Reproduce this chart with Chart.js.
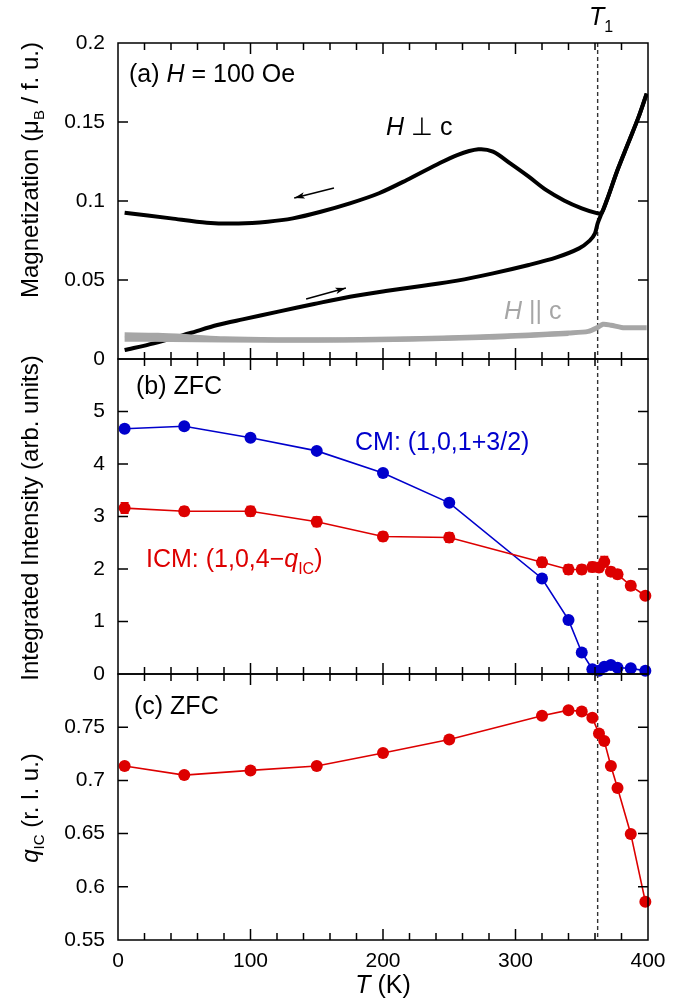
<!DOCTYPE html>
<html>
<head>
<meta charset="utf-8">
<script src="https://cdn.jsdelivr.net/npm/chart.js@4.4.1/dist/chart.umd.min.js"></script>
<style>
  html, body { margin: 0; padding: 0; background: #fff; }
  #wrap { position: relative; width: 679px; height: 1003px; overflow: hidden; background: #fff; }
  #wrap canvas { position: absolute; left: 0; }
</style>
</head>
<body>
<div id="wrap">
  <canvas id="panelA" style="top:0px" width="679" height="399"></canvas>
  <canvas id="panelB" style="top:319px" width="679" height="395"></canvas>
  <canvas id="panelC" style="top:634px" width="679" height="369"></canvas>
</div>
<script>
// ---- data ----
// (a) magnetization, H = 100 Oe
const warmT   = [5, 27, 54, 75, 94, 121, 148, 175, 202, 229, 256, 283, 310, 331, 348, 356, 360, 362, 365, 369, 377, 385, 393, 399];
const warmMag = [0.0057, 0.0099, 0.0163, 0.0215, 0.0251, 0.0300, 0.0348, 0.0394, 0.0430, 0.0462, 0.0496, 0.0542, 0.0595, 0.0643, 0.0700, 0.0749, 0.0795, 0.0859, 0.0922, 0.1006, 0.1196, 0.1365, 0.1534, 0.1680];
const coolT   = [399, 393, 385, 377, 369, 365, 362, 350, 337, 323, 310, 296, 283, 272, 256, 240, 218, 197, 175, 153, 132, 113, 91, 67, 40, 5];
const coolMag = [0.1680, 0.1534, 0.1365, 0.1196, 0.1006, 0.0924, 0.0922, 0.0954, 0.1002, 0.1070, 0.1154, 0.1238, 0.1312, 0.1327, 0.1291, 0.1228, 0.1133, 0.1049, 0.0985, 0.0932, 0.0890, 0.0869, 0.0858, 0.0863, 0.0890, 0.0926];
const parT1   = [5, 30, 55, 80, 120, 170, 220, 270, 310, 340, 355, 362, 366, 372, 380, 390, 399];
const parMag1 = [0.0153, 0.0150, 0.0140, 0.0128, 0.0122, 0.0122, 0.0128, 0.0140, 0.0152, 0.0165, 0.0175, 0.0200, 0.0220, 0.0214, 0.0200, 0.0198, 0.0198];
const parT2   = [5, 40, 80, 150, 220, 280, 340];
const parMag2 = [0.0125, 0.0124, 0.0120, 0.0118, 0.0125, 0.0138, 0.0162];

// (b), (c) neutron data, ZFC
const scanT        = [5, 50, 100, 150, 200, 250, 320, 340, 350, 358, 363, 367, 372, 377, 387, 398];
const cmIntensity  = [4.67, 4.72, 4.50, 4.25, 3.83, 3.26, 1.82, 1.03, 0.41, 0.09, 0.06, 0.14, 0.17, 0.12, 0.11, 0.06];
const icmIntensity = [3.16, 3.10, 3.10, 2.90, 2.62, 2.60, 2.13, 1.99, 1.99, 2.04, 2.03, 2.14, 1.95, 1.90, 1.68, 1.49];
const icmError     = [0.10, 0.08, 0.09, 0.09, 0.08, 0.09, 0.09, 0.09, 0.08, 0.09, 0.08, 0.10, 0.08, 0.08, 0.08, 0.06];
const qIC          = [0.7135, 0.7050, 0.7094, 0.7135, 0.7258, 0.7384, 0.7607, 0.7660, 0.7648, 0.7588, 0.7440, 0.7370, 0.7135, 0.6928, 0.6497, 0.5860];

const T1 = 362;
const xTicks = [0, 100, 200, 300, 400];

const BLUE = '#0000cc';
const RED = '#dd0000';
const GRAY = '#a6a6a6';
const FONT = '"Liberation Sans", Arial, Helvetica, sans-serif';
const TXT = 25;   // in-panel labels
const TTL = 24;   // axis titles

Chart.defaults.font.family = FONT;
Chart.defaults.color = '#000';

const pts = (xs, ys) => xs.map((x, i) => ({ x: x, y: ys[i] }));

// mixed-style text: parts = [[text, 'n' | 'i' | 's']]
function fontFor(st, size) {
  const sz = st.includes('s') ? Math.round(size * 0.62) : size;
  return (st.includes('i') ? 'italic ' : '') + sz + 'px ' + FONT;
}
function drawRich(ctx, parts, x, y, size, color, align) {
  let w = 0;
  parts.forEach(p => { ctx.font = fontFor(p[1], size); w += ctx.measureText(p[0]).width; });
  let cx = align === 'center' ? x - w / 2 : x;
  ctx.fillStyle = color;
  ctx.textAlign = 'left';
  ctx.textBaseline = 'middle';
  parts.forEach(p => {
    ctx.font = fontFor(p[1], size);
    const dy = p[1].includes('s') ? size * 0.38 : 0;
    ctx.fillText(p[0], cx, y + dy);
    cx += ctx.measureText(p[0]).width;
  });
}
function drawTitle(ctx, parts, x, y) {
  ctx.save();
  ctx.translate(x, y);
  ctx.rotate(-Math.PI / 2);
  drawRich(ctx, parts, 0, 0, TTL, '#000', 'center');
  ctx.restore();
}

// frame, inward ticks on all four sides and the T1 line
const framePlugin = {
  id: 'frame',
  beforeDatasetsDraw(chart) {
    const { ctx, chartArea: a, scales: { x } } = chart;
    const xp = x.getPixelForValue(T1);
    ctx.save();
    ctx.strokeStyle = '#333';
    ctx.lineWidth = 1.4;
    ctx.setLineDash([4, 3]);
    ctx.beginPath();
    ctx.moveTo(xp, a.top);
    ctx.lineTo(xp, a.bottom);
    ctx.stroke();
    ctx.restore();
  },
  afterDatasetsDraw(chart) {
    const { ctx, chartArea: a, scales: { x, y } } = chart;
    ctx.save();
    ctx.strokeStyle = '#000';
    ctx.lineWidth = 1.5;
    ctx.strokeRect(a.left, a.top, a.right - a.left, a.bottom - a.top);
    ctx.beginPath();
    for (let t = 20; t < 400; t += 20) {
      const px = x.getPixelForValue(t);
      const len = t % 100 === 0 ? 11 : 7;
      ctx.moveTo(px, a.top); ctx.lineTo(px, a.top + len);
      ctx.moveTo(px, a.bottom); ctx.lineTo(px, a.bottom - len);
    }
    y.ticks.forEach(tk => {
      if (tk.value <= y.min || tk.value >= y.max) return;
      const py = y.getPixelForValue(tk.value);
      ctx.moveTo(a.left, py); ctx.lineTo(a.left + 10, py);
      ctx.moveTo(a.right, py); ctx.lineTo(a.right - 10, py);
    });
    ctx.stroke();
    ctx.restore();
  }
};

function baseOptions(yMin, yMax, step, pad, fmt, showX) {
  return {
    responsive: false,
    animation: false,
    layout: { padding: pad, autoPadding: false },
    plugins: { legend: { display: false }, tooltip: { enabled: false } },
    scales: {
      x: {
        type: 'linear', min: 0, max: 400, display: showX,
        grid: { display: false, drawTicks: false },
        border: { display: false },
        afterBuildTicks: s => { s.ticks = xTicks.map(v => ({ value: v })); },
        afterFit: s => { if (showX) s.height = 63; },
        ticks: { padding: 9, maxRotation: 0, autoSkip: false, font: { size: 21 }, color: '#000' }
      },
      y: {
        type: 'linear', min: yMin, max: yMax,
        grid: { display: false, drawTicks: false },
        border: { display: false },
        afterFit: s => { s.width = 118; },
        ticks: { stepSize: step, padding: 13, font: { size: 21 }, color: '#000', callback: fmt }
      }
    }
  };
}

// ---- (a) magnetization ----
const optA = baseOptions(0, 0.2, 0.05, { top: 43, bottom: 40, left: 0, right: 31 },
  v => Number(v.toFixed(2)).toString(), false);
new Chart(document.getElementById('panelA'), {
  type: 'line',
  data: {
    datasets: [
      { data: pts(parT2, parMag2), borderColor: GRAY, borderWidth: 5, pointRadius: 0, tension: 0.3 },
      { data: pts(parT1, parMag1), borderColor: GRAY, borderWidth: 5, pointRadius: 0, tension: 0.3 },
      { data: pts(warmT, warmMag), borderColor: '#000', borderWidth: 4, pointRadius: 0, tension: 0.3 },
      { data: pts(coolT, coolMag), borderColor: '#000', borderWidth: 4, pointRadius: 0, tension: 0.3 }
    ]
  },
  options: optA,
  plugins: [framePlugin, {
    id: 'labelsA',
    afterDraw(chart) {
      const { ctx, scales: { x, y } } = chart;
      const arrow = (t0, m0, t1, m1) => {
        const x0 = x.getPixelForValue(t0), y0 = y.getPixelForValue(m0);
        const x1 = x.getPixelForValue(t1), y1 = y.getPixelForValue(m1);
        const ang = Math.atan2(y1 - y0, x1 - x0);
        ctx.save();
        ctx.strokeStyle = '#000'; ctx.fillStyle = '#000'; ctx.lineWidth = 1.5;
        ctx.beginPath(); ctx.moveTo(x0, y0); ctx.lineTo(x1, y1); ctx.stroke();
        ctx.beginPath();
        ctx.moveTo(x1, y1);
        ctx.lineTo(x1 - 11 * Math.cos(ang - 0.3), y1 - 11 * Math.sin(ang - 0.3));
        ctx.lineTo(x1 - 8 * Math.cos(ang), y1 - 8 * Math.sin(ang));
        ctx.lineTo(x1 - 11 * Math.cos(ang + 0.3), y1 - 11 * Math.sin(ang + 0.3));
        ctx.closePath(); ctx.fill();
        ctx.restore();
      };
      arrow(163, 0.1082, 133, 0.1019);
      arrow(142, 0.0380, 172, 0.0449);
      drawRich(ctx, [['(a) ', 'n'], ['H', 'i'], [' = 100 Oe', 'n']], 129, 75, TXT, '#000', 'left');
      drawRich(ctx, [['H', 'i'], [' \u22a5 c', 'n']], 386, 128, TXT, '#000', 'left');
      drawRich(ctx, [['H', 'i'], [' || c', 'n']], 504, 312, TXT, GRAY, 'left');
      drawRich(ctx, [['T', 'i'], ['1', 's']], 589, 18, TXT, '#000', 'left');
      drawTitle(ctx, [['Magnetization (\u03bc', 'n'], ['B', 's'], [' / f. u.)', 'n']], 31, 170);
    }
  }]
});

// ---- (b) integrated intensity ----
const offB = 319;
const optB = baseOptions(0, 6, 1, { top: 40, bottom: 40, left: 0, right: 31 },
  v => (v >= 6 ? '' : String(v)), false);
new Chart(document.getElementById('panelB'), {
  type: 'line',
  data: {
    datasets: [
      { data: pts(scanT, icmIntensity), borderColor: RED, backgroundColor: RED, borderWidth: 1.6,
        pointRadius: 6, pointBorderWidth: 0, clip: false },
      { data: pts(scanT, cmIntensity), borderColor: BLUE, backgroundColor: BLUE, borderWidth: 1.6,
        pointRadius: 6, pointBorderWidth: 0, clip: false }
    ]
  },
  options: optB,
  plugins: [framePlugin, {
    id: 'errorBars',
    beforeDatasetsDraw(chart) {
      const { ctx, scales: { x, y } } = chart;
      ctx.save();
      ctx.strokeStyle = RED; ctx.lineWidth = 1.5;
      ctx.beginPath();
      scanT.forEach((t, i) => {
        const px = x.getPixelForValue(t);
        const lo = y.getPixelForValue(icmIntensity[i] - icmError[i]);
        const hi = y.getPixelForValue(icmIntensity[i] + icmError[i]);
        ctx.moveTo(px, lo); ctx.lineTo(px, hi);
        ctx.moveTo(px - 4, lo); ctx.lineTo(px + 4, lo);
        ctx.moveTo(px - 4, hi); ctx.lineTo(px + 4, hi);
      });
      ctx.stroke();
      ctx.restore();
    },
    afterDraw(chart) {
      const { ctx } = chart;
      drawRich(ctx, [['(b) ZFC', 'n']], 136, 387 - offB, TXT, '#000', 'left');
      drawRich(ctx, [['CM: (1,0,1+3/2)', 'n']], 355, 443 - offB, TXT, BLUE, 'left');
      drawRich(ctx, [['ICM: (1,0,4\u2212', 'n'], ['q', 'i'], ['IC', 's'], [')', 'n']], 146, 560 - offB, TXT, RED, 'left');
      drawTitle(ctx, [['Integrated Intensity (arb. units)', 'n']], 31, 518 - offB);
    }
  }]
});

// ---- (c) incommensurate wave vector ----
const offC = 634;
const optC = baseOptions(0.55, 0.8, 0.05, { top: 40, bottom: 0, left: 0, right: 31 },
  v => (v >= 0.79 ? '' : Number(v.toFixed(2)).toString()), true);
new Chart(document.getElementById('panelC'), {
  type: 'line',
  data: {
    datasets: [
      { data: pts(scanT, qIC), borderColor: RED, backgroundColor: RED, borderWidth: 1.6,
        pointRadius: 6, pointBorderWidth: 0, clip: false }
    ]
  },
  options: optC,
  plugins: [framePlugin, {
    id: 'labelsC',
    afterDraw(chart) {
      const { ctx } = chart;
      drawRich(ctx, [['(c) ZFC', 'n']], 134, 707 - offC, TXT, '#000', 'left');
      drawTitle(ctx, [['q', 'i'], ['IC', 's'], [' (r. l. u.)', 'n']], 31, 808 - offC);
      drawRich(ctx, [['T', 'i'], [' (K)', 'n']], 383, 986 - offC, TXT, '#000', 'center');
    }
  }]
});
</script>
</body>
</html>
